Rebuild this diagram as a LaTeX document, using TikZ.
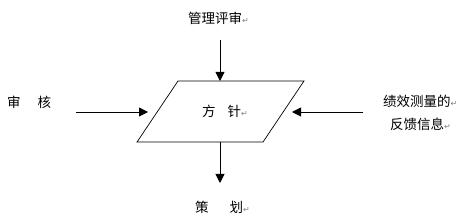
\documentclass[tikz,border=0pt]{standalone}
\usepackage{fontspec}
\newfontfamily\cjk{Noto Sans CJK SC}
\newfontfamily\sym{DejaVu Sans}
\usetikzlibrary{arrows.meta}
\newcommand{\pmark}{{\sym\fontsize{8}{8}\selectfont\color{gray}↵}}
\tikzset{
  lbl/.style={inner sep=0pt, font=\cjk\fontsize{13.5}{17}\selectfont, anchor=west, align=left},
  arr/.style={line width=0.8pt, -{Triangle[width=9pt,length=9pt]}},
  box/.style={line width=0.7pt}
}
\begin{document}
\begin{tikzpicture}[x=1pt,y=-1pt]
\useasboundingbox (0,0) rectangle (471,221);
% parallelogram
\coordinate (tl) at (178,81);
\coordinate (tr) at (304,81);
\coordinate (br) at (263,142);
\coordinate (bl) at (137,142);
\draw[box] (tl) -- (tr) -- (br) -- (bl) -- cycle;
\node[lbl] (fz) at (202,111) {方\hspace{12pt}针\pmark};
% texts
\node[lbl] (gl) at (188,18) {管理评审\pmark};
\node[lbl] (sh) at (7,102) {审\hspace{17pt}核};
\node[lbl] (jx) at (383,101) {绩效测量的\pmark};
\node[lbl] (fk) at (390,124) {反馈信息\pmark};
\node[lbl] (ch) at (195,207) {策\hspace{21pt}划\pmark};
% connector anchors
\coordinate (t0) at (220,40);
\coordinate (t1) at (220,81);
\coordinate (l0) at (76,112);
\coordinate (l1) at (148,112);
\coordinate (r0) at (363,112);
\coordinate (r1) at (292,112);
\coordinate (b0) at (220,142);
\coordinate (b1) at (220,183);
\draw[arr] (t0) -- (t1);
\draw[arr] (l0) -- (l1);
\draw[arr] (r0) -- (r1);
\draw[arr] (b0) -- (b1);
\end{tikzpicture}
\end{document}
